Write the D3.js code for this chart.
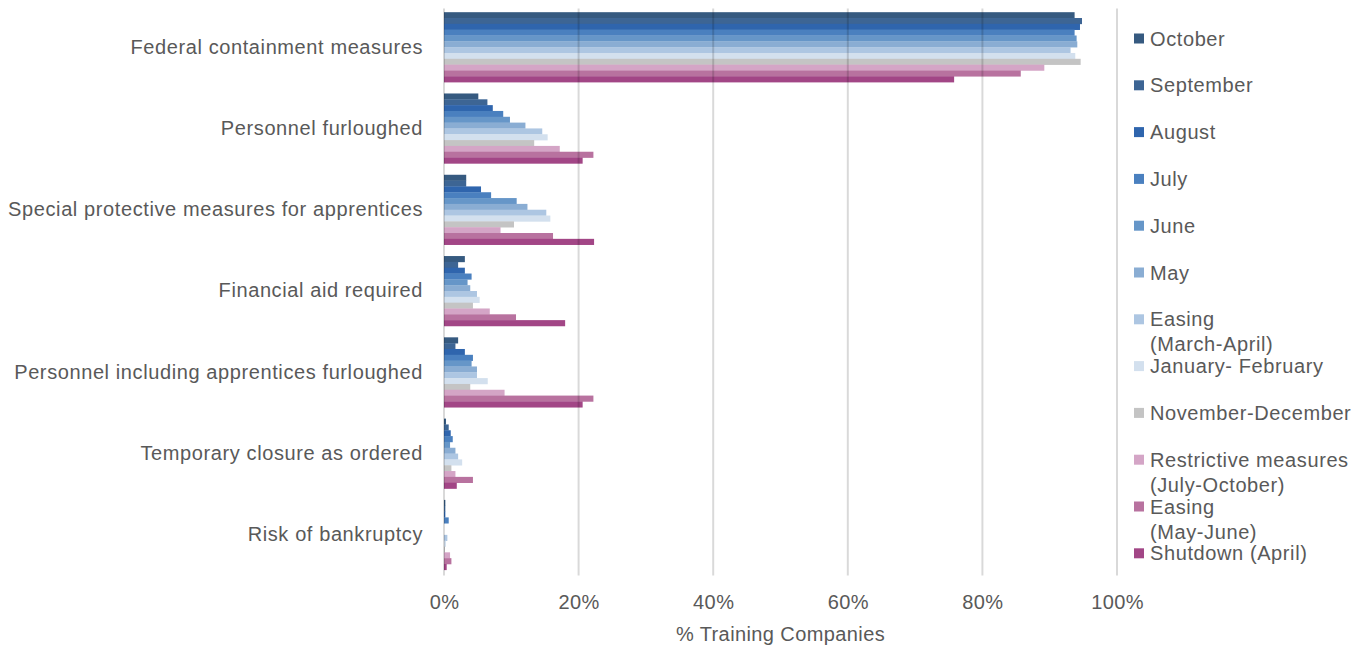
<!DOCTYPE html>
<html>
<head>
<meta charset="utf-8">
<script src="https://cdn.jsdelivr.net/npm/d3@7/dist/d3.min.js"></script>
<style>
  html, body { margin: 0; padding: 0; background: #fff; }
  svg { display: block; }
  text { font-family: "Liberation Sans", Arial, sans-serif; fill: #595959; }
</style>
</head>
<body>
<svg id="chart" width="1370" height="646"></svg>
<script>
// ---- Data ----
const categories = [
  "Federal containment measures",
  "Personnel furloughed",
  "Special protective measures for apprentices",
  "Financial aid required",
  "Personnel including apprentices furloughed",
  "Temporary closure as ordered",
  "Risk of bankruptcy"
];
const seriesNames = [
  "October", "September", "August", "July", "June", "May",
  "Easing\n(March-April)", "January- February", "November-December",
  "Restrictive measures\n(July-October)", "Easing\n(May-June)", "Shutdown (April)"
];
const seriesColors = [
  "#365a80", "#3d6594", "#2f65ad", "#4a80bf", "#6696c8", "#8aadd3",
  "#adc6e2", "#d3e0ee", "#c4c4c4", "#d4a5c6", "#b8729f", "#a24686"
];
const october      = [93.7, 5.1, 3.3, 3.1, 2.1, 0.3, 0.2];
const september    = [94.8, 6.45, 3.3, 2.1, 1.7, 0.7, 0.2];
const august       = [94.5, 7.25, 5.5, 3.1, 3.1, 1.0, 0.2];
const july         = [93.7, 8.8, 7.0, 4.1, 4.3, 1.3, 0.7];
const june         = [94.0, 9.8, 10.8, 3.5, 4.1, 0.9, 0];
const may          = [94.1, 12.1, 12.4, 3.9, 4.9, 1.7, 0];
const easingMarApr = [93.1, 14.6, 15.2, 4.9, 4.9, 2.1, 0.5];
const janFeb       = [93.8, 15.4, 15.8, 5.3, 6.5, 2.7, 0.3];
const novDec       = [94.6, 13.4, 10.4, 4.3, 3.9, 1.1, 0.15];
const restrictive  = [89.2, 17.2, 8.4, 6.8, 9.0, 1.7, 0.9];
const easingMayJun = [85.7, 22.2, 16.2, 10.7, 22.2, 4.3, 1.1];
const shutdown     = [75.8, 20.6, 22.3, 18.0, 20.6, 1.9, 0.4];
const seriesValues = [october, september, august, july, june, may,
  easingMarApr, janFeb, novDec, restrictive, easingMayJun, shutdown];
const xTicks = [0, 20, 40, 60, 80, 100];
const xTitle = "% Training Companies";

// ---- Layout ----
const svg = d3.select("#chart");
const plot = { left: 444, right: 1117, top: 6.5, bottom: 575.5 };
const FONT = "'Liberation Sans', Arial, sans-serif";

const x = d3.scaleLinear().domain([0, 100]).range([plot.left, plot.right]);
const y = d3.scaleBand().domain(categories).range([plot.top, plot.bottom])
  .paddingInner(0.14).paddingOuter(0.07);
const ySub = d3.scaleBand().domain(d3.range(seriesNames.length))
  .range([0, y.bandwidth()]).padding(0);

// bars
const groups = svg.append("g").selectAll("g")
  .data(categories).join("g")
  .attr("transform", d => `translate(0,${y(d)})`);

groups.selectAll("rect")
  .data((c, ci) => seriesValues.map((vals, si) => ({ si, v: vals[ci] })))
  .join("rect")
  .attr("x", x(0))
  .attr("y", d => ySub(d.si))
  .attr("width", d => Math.max(0, x(d.v) - x(0)))
  .attr("height", ySub.bandwidth() + 0.3)
  .attr("fill", d => seriesColors[d.si]);

// gridlines (drawn over bars, translucent)
svg.append("g").selectAll("line")
  .data(xTicks).join("line")
  .attr("x1", d => x(d)).attr("x2", d => x(d))
  .attr("y1", plot.top + 2).attr("y2", plot.bottom)
  .attr("stroke", "rgba(0,0,0,0.15)")
  .attr("stroke-width", 2);

// x axis labels
const xAxis = d3.axisBottom(x).tickValues(xTicks).tickFormat(d => d + "%").tickSize(0).tickPadding(0);
const xg = svg.append("g").attr("transform", `translate(0,${plot.bottom})`).call(xAxis);
xg.select(".domain").remove();
xg.selectAll("text")
  .attr("dy", null).attr("y", 33)
  .style("font-size", "20px").style("font-family", FONT)
  .style("letter-spacing", "0.4px")
  .attr("fill", "#595959");

svg.append("text")
  .attr("x", (plot.left + plot.right) / 2)
  .attr("y", 641)
  .attr("text-anchor", "middle")
  .style("font-size", "20px")
  .style("letter-spacing", "0.4px")
  .text(xTitle);

// y axis labels
const yAxis = d3.axisLeft(y).tickSize(0).tickPadding(21);
const yg = svg.append("g").attr("transform", `translate(${plot.left},0)`).call(yAxis);
yg.select(".domain").remove();
yg.selectAll("text")
  .style("font-size", "20px").style("font-family", FONT)
  .style("letter-spacing", "0.6px")
  .attr("fill", "#595959");

// legend
const legendTop = 38.5, legendStep = 46.8;
const leg = svg.append("g").selectAll("g")
  .data(seriesNames).join("g")
  .attr("transform", (d, i) => `translate(1134,${legendTop + i * legendStep})`);
leg.append("rect")
  .attr("x", 0).attr("y", -5).attr("width", 10).attr("height", 10)
  .attr("fill", (d, i) => seriesColors[i]);
leg.append("text")
  .attr("x", 16).attr("y", 7)
  .style("font-size", "20px")
  .style("letter-spacing", "0.6px")
  .each(function(d) {
    const lines = d.split("\n");
    d3.select(this).selectAll("tspan").data(lines).join("tspan")
      .attr("x", 16).attr("dy", (l, j) => j === 0 ? 0 : 25)
      .text(l => l);
  });
</script>
</body>
</html>
